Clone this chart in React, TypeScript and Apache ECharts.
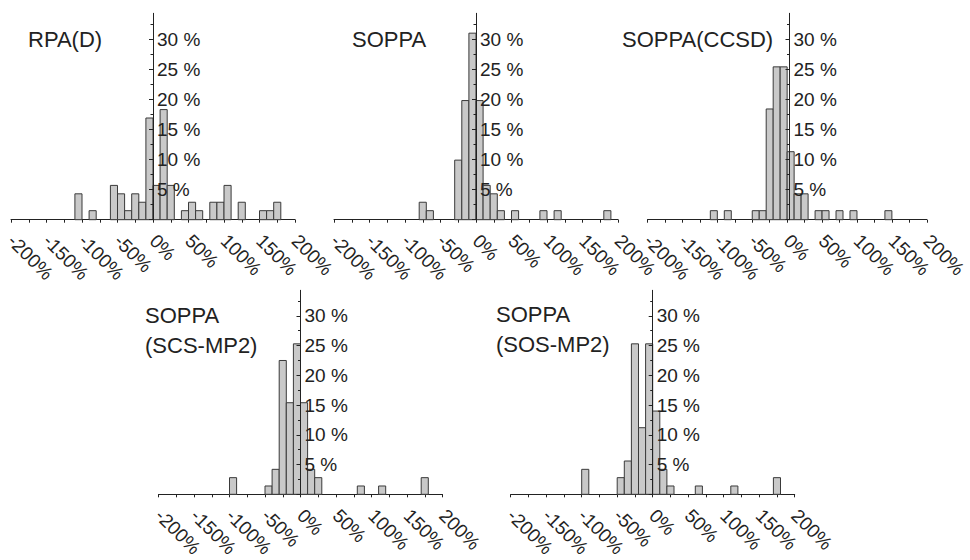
import React, { useEffect, useRef } from "react";
import * as echarts from "echarts";

// Histogram data: bin start (%) of each 10 %-wide bin and its share (%)
const rpaStarts = [-110, -90, -60, -50, -40, -30, -20, -10, 0, 10, 20, 40, 50, 60, 80, 90, 100, 120, 150, 160, 170];
const rpaValues = [4.3, 1.5, 5.7, 4.3, 1.5, 4.3, 2.9, 16.9, 5.7, 18.3, 5.7, 1.5, 2.9, 1.5, 2.9, 2.9, 5.7, 2.9, 1.5, 1.5, 2.9];

const soppaStarts = [-80, -70, -30, -20, -10, 0, 10, 20, 30, 50, 90, 110, 180];
const soppaValues = [2.9, 1.5, 9.9, 19.8, 31.0, 19.8, 5.7, 4.3, 1.5, 1.5, 1.5, 1.5, 1.5];

const ccsdStarts = [-110, -90, -50, -40, -30, -20, -10, 0, 10, 20, 40, 50, 70, 90, 140];
const ccsdValues = [1.5, 1.5, 1.5, 1.5, 18.4, 25.4, 25.4, 11.3, 4.3, 4.3, 1.5, 1.5, 1.5, 1.5, 1.5];

const scsStarts = [-100, -50, -40, -30, -20, -10, 0, 10, 20, 80, 110, 170];
const scsValues = [2.8, 1.4, 4.2, 22.5, 15.4, 25.3, 15.4, 4.2, 2.8, 1.4, 1.4, 2.8];

const sosStarts = [-100, -50, -40, -30, -20, -10, 0, 10, 20, 60, 110, 170];
const sosValues = [4.2, 2.8, 5.6, 25.3, 11.2, 25.3, 14.0, 4.2, 1.4, 1.4, 1.4, 2.8];

const panelTitles = ["RPA(D)", "SOPPA", "SOPPA(CCSD)", "SOPPA\n(SCS-MP2)", "SOPPA\n(SOS-MP2)"];
const binWidth = 10;
const xMin = -200;
const xMax = 200;
const yMax = 34.3;
const yMajorTicks = [0, 5, 10, 15, 20, 25, 30];
const yLabelValues = [5, 10, 15, 20, 25, 30];
const yMinorTicks = [2.5, 7.5, 12.5, 17.5, 22.5, 27.5, 32.5];

const FONT = "'Liberation Sans', Arial, Helvetica, sans-serif";
const INK = "#222222";

export default function App() {
  const ref = useRef<HTMLDivElement>(null);

  useEffect(() => {
    document.body.style.margin = "0";
    if (!ref.current) return;
    const chart = echarts.init(ref.current, null, { renderer: "svg" });

    const panels = [
      { starts: rpaStarts, values: rpaValues },
      { starts: soppaStarts, values: soppaValues },
      { starts: ccsdStarts, values: ccsdValues },
      { starts: scsStarts, values: scsValues },
      { starts: sosStarts, values: sosValues },
    ];

    const gridW = 284;
    const gridH = 206.4;
    const grids = [
      { left: 11, top: 13.3 },
      { left: 334, top: 13.3 },
      { left: 647.5, top: 13.3 },
      { left: 158.5, top: 290.3 },
      { left: 510.7, top: 290.3 },
    ].map((g) => ({ ...g, width: gridW, height: gridH }));

    const titlePos = [
      { left: 28, top: 24 },
      { left: 352, top: 24 },
      { left: 622, top: 24 },
      { left: 145, top: 300.5 },
      { left: 496, top: 299.5 },
    ];

    const xAxes: any[] = [];
    const yAxes: any[] = [];
    const series: any[] = [];

    panels.forEach((p, i) => {
      xAxes.push({
        gridIndex: i,
        type: "value",
        min: xMin,
        max: xMax,
        interval: 25,
        axisLine: { onZero: false, lineStyle: { color: INK, width: 1 } },
        axisTick: { length: 3, lineStyle: { color: INK, width: 1 } },
        axisLabel: {
          rotate: -45,
          margin: 18,
          fontSize: 19,
          fontFamily: FONT,
          color: INK,
          formatter: (v: number) => (v % 50 === 0 ? `${v}%` : ""),
        },
        splitLine: { show: false },
      });
      yAxes.push({
        gridIndex: i,
        type: "value",
        position: "left",
        offset: -gridW / 2,
        min: 0,
        max: yMax,
        z: 5,
        axisLine: { show: true, onZero: false, lineStyle: { color: INK, width: 1 } },
        axisTick: { show: true, length: 4, customValues: yMajorTicks, lineStyle: { color: INK, width: 1 } },
        axisLabel: {
          inside: true,
          margin: 4,
          customValues: yLabelValues,
          fontSize: 19,
          fontFamily: FONT,
          color: INK,
          formatter: (v: number) => `${v} %`,
        },
        splitLine: { show: false },
      });
      yAxes.push({
        gridIndex: i,
        type: "value",
        position: "left",
        offset: -gridW / 2,
        min: 0,
        max: yMax,
        z: 5,
        axisLine: { show: false, onZero: false },
        axisTick: { show: true, length: 2.5, customValues: yMinorTicks, lineStyle: { color: INK, width: 1 } },
        axisLabel: { show: false },
        splitLine: { show: false },
      });
      series.push({
        type: "custom",
        xAxisIndex: i,
        yAxisIndex: 2 * i,
        encode: { x: [0, 1], y: 2 },
        data: p.starts.map((s, k) => [s, s + binWidth, p.values[k]]),
        renderItem: (_params: any, api: any) => {
          const x0 = api.value(0);
          const x1 = api.value(1);
          const y = api.value(2);
          const a = api.coord([x0, y]);
          const b = api.coord([x1, 0]);
          return {
            type: "rect",
            shape: { x: a[0], y: a[1], width: b[0] - a[0], height: b[1] - a[1] },
            style: { fill: "#c9c9c9", stroke: "#3a3a3a", lineWidth: 1 },
          };
        },
      });
    });

    chart.setOption({
      animation: false,
      backgroundColor: "#ffffff",
      title: panelTitles.map((t, i) => ({
        text: t,
        left: titlePos[i].left,
        top: titlePos[i].top,
        padding: 0,
        textStyle: {
          fontSize: 22,
          fontWeight: "normal",
          fontFamily: FONT,
          color: INK,
          lineHeight: 30,
        },
      })),
      grid: grids,
      xAxis: xAxes,
      yAxis: yAxes,
      series,
    });

    return () => chart.dispose();
  }, []);

  return (
    <div
      ref={ref}
      style={{ width: 970, height: 560, position: "absolute", left: 0, top: 0 }}
    />
  );
}
